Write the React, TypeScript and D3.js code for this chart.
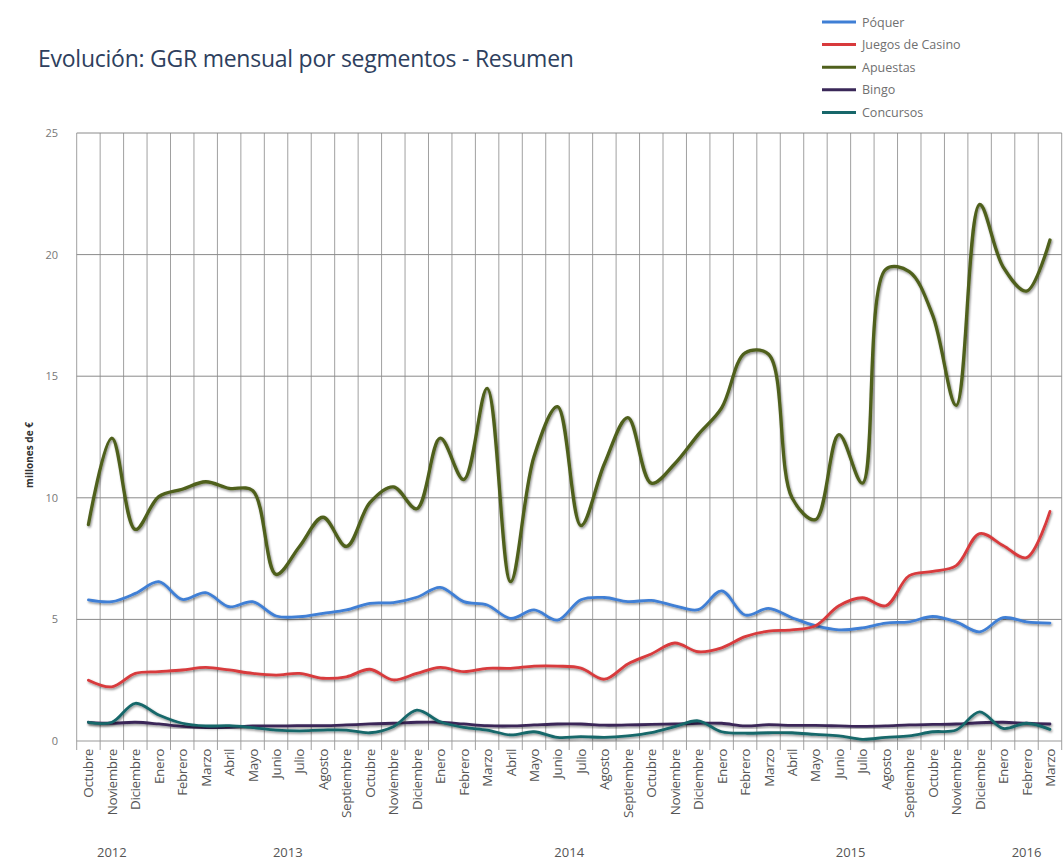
import { useMemo } from "react";
import * as d3 from "d3";

const WIDTH = 1064;
const HEIGHT = 865;
const PLOT = { left: 76.7, right: 1061.7, top: 133, bottom: 741 };

const MONTHS = [
  "Octubre", "Noviembre", "Diciembre",
  "Enero", "Febrero", "Marzo", "Abril", "Mayo", "Junio", "Julio", "Agosto", "Septiembre", "Octubre", "Noviembre", "Diciembre",
  "Enero", "Febrero", "Marzo", "Abril", "Mayo", "Junio", "Julio", "Agosto", "Septiembre", "Octubre", "Noviembre", "Diciembre",
  "Enero", "Febrero", "Marzo", "Abril", "Mayo", "Junio", "Julio", "Agosto", "Septiembre", "Octubre", "Noviembre", "Diciembre",
  "Enero", "Febrero", "Marzo",
];
const YEARS = ["2012", "2013", "2014", "2015", "2016"];
const YEAR_MONTHS = [3, 12, 12, 12, 3];
const Y_TICKS = [0, 5, 10, 15, 20, 25];

const poquer = [
  5.8, 5.73, 6.07, 6.55, 5.82, 6.1, 5.52, 5.73, 5.14, 5.11, 5.25, 5.39, 5.66, 5.69, 5.91,
  6.32, 5.73, 5.59, 5.04, 5.39, 4.97, 5.81, 5.9, 5.73, 5.78, 5.56, 5.4,
  6.17, 5.18, 5.45, 5.07, 4.74, 4.57, 4.65, 4.85, 4.9, 5.12, 4.9, 4.49,
  5.07, 4.9, 4.85,
];
const casino = [
  2.5, 2.23, 2.78, 2.85, 2.92, 3.03, 2.92, 2.78, 2.71, 2.78, 2.58, 2.64, 2.95, 2.51, 2.78,
  3.03, 2.85, 2.99, 2.99, 3.08, 3.08, 3.0, 2.54, 3.17, 3.58, 4.03, 3.67,
  3.83, 4.29, 4.52, 4.57, 4.74, 5.56, 5.89, 5.56, 6.8, 6.97, 7.21, 8.53,
  8.04, 7.54, 9.44,
];
const apuestas = [
  8.9, 12.45, 8.7, 10.05, 10.35, 10.66, 10.39, 10.3, 6.85, 8.0, 9.2, 8.0, 9.8, 10.45, 9.55,
  12.45, 10.75, 14.5, 6.55, 11.7, 13.75, 8.86, 11.4, 13.3, 10.6, 11.4, 12.6,
  13.7, 15.96, 15.9, 10.0, 9.1, 12.6, 10.6, 19.4, 19.3, 17.5, 13.8, 22.06,
  19.5, 18.5, 20.6,
];
const bingo = [
  0.77, 0.73, 0.77, 0.7, 0.6, 0.55, 0.56, 0.62, 0.62, 0.63, 0.63, 0.66, 0.7, 0.73, 0.77,
  0.77, 0.7, 0.63, 0.62, 0.66, 0.7, 0.7, 0.65, 0.66, 0.68, 0.7, 0.73,
  0.73, 0.62, 0.67, 0.64, 0.64, 0.62, 0.6, 0.62, 0.66, 0.68, 0.7, 0.75,
  0.77, 0.73, 0.7,
];
const concursos = [
  0.77, 0.77, 1.55, 1.07, 0.73, 0.62, 0.63, 0.55, 0.45, 0.42, 0.45, 0.45, 0.34, 0.59, 1.27,
  0.79, 0.56, 0.45, 0.25, 0.38, 0.15, 0.18, 0.15, 0.21, 0.34, 0.59, 0.83,
  0.38, 0.32, 0.34, 0.34, 0.27, 0.21, 0.07, 0.15, 0.21, 0.38, 0.45, 1.2,
  0.52, 0.73, 0.48,
];

const SERIES = [
  { name: "Póquer", values: poquer, color: "#3f7fd5", width: 2.8 },
  { name: "Juegos de Casino", values: casino, color: "#d83a3c", width: 2.8 },
  { name: "Apuestas", values: apuestas, color: "#4f601c", width: 3.3 },
  { name: "Bingo", values: bingo, color: "#3a2858", width: 2.8 },
  { name: "Concursos", values: concursos, color: "#17676a", width: 2.8 },
];

const FONT = "'Open Sans', 'DejaVu Sans', sans-serif";

export default function App() {
  const x = useMemo(
    () =>
      d3
        .scaleBand<number>()
        .domain(d3.range(MONTHS.length))
        .range([PLOT.left, PLOT.right]),
    []
  );
  const y = useMemo(
    () => d3.scaleLinear().domain([0, 25]).range([PLOT.bottom, PLOT.top]),
    []
  );
  const cx = (i: number) => (x(i) ?? 0) + x.bandwidth() / 2;

  const line = d3
    .line<number>()
    .x((_, i) => cx(i))
    .y((d) => y(d))
    .curve(d3.curveCatmullRom.alpha(0.5));

  // band boundaries for the vertical grid
  const bounds = d3.range(MONTHS.length + 1).map((i) => PLOT.left + i * x.bandwidth());

  let start = 0;
  const yearPos = YEARS.map((label, j) => {
    const from = start;
    start += YEAR_MONTHS[j];
    const mid = (PLOT.left + from * x.bandwidth() + PLOT.left + start * x.bandwidth()) / 2;
    return { label, mid };
  });

  return (
    <svg
      width={WIDTH}
      height={HEIGHT}
      style={{ position: "absolute", left: 0, top: 0, background: "#fff" }}
      fontFamily={FONT}
    >
      <defs>
        <filter id="shadow" x="-5%" y="-20%" width="110%" height="140%">
          <feDropShadow dx="1" dy="1.5" stdDeviation="1.2" floodColor="#000" floodOpacity="0.45" />
        </filter>
      </defs>

      <text x={38} y={67} fontSize={23} fill="#2e3f5e" letterSpacing={-0.25}>
        Evolución: GGR mensual por segmentos - Resumen
      </text>

      {/* legend */}
      {SERIES.map((s, i) => (
        <g key={s.name} transform={`translate(822, ${22 + i * 22.6})`}>
          <line x1={0} x2={34} y1={0} y2={0} stroke={s.color} strokeWidth={3} />
          <text x={40} y={4.5} fontSize={12.5} fill="#707070">
            {s.name}
          </text>
        </g>
      ))}

      {/* grid */}
      {bounds.map((b, i) => (
        <line key={`v${i}`} x1={b} x2={b} y1={PLOT.top} y2={PLOT.bottom + 9} stroke="#a0a0a0" strokeWidth={1} />
      ))}
      {Y_TICKS.map((t) => (
        <g key={`h${t}`}>
          <line x1={PLOT.left} x2={PLOT.right} y1={y(t)} y2={y(t)} stroke={t === 0 ? "#999" : "#8a8a8a"} strokeWidth={1} />
          <text x={58} y={y(t) + 4} fontSize={11} fill="#777" textAnchor="end">
            {t}
          </text>
        </g>
      ))}

      <text
        transform={`translate(33, 455) rotate(-90)`}
        fontSize={10}
        fontWeight="bold"
        fill="#333"
        textAnchor="middle"
      >
        millones de €
      </text>

      {/* series */}
      {SERIES.map((s) => (
        <path
          key={s.name}
          d={line(s.values) ?? ""}
          fill="none"
          stroke={s.color}
          strokeWidth={s.width}
          strokeLinejoin="round"
          strokeLinecap="round"
          filter="url(#shadow)"
        />
      ))}

      {/* month labels */}
      {MONTHS.map((m, i) => (
        <text
          key={`m${i}`}
          transform={`translate(${cx(i) + 5}, 749) rotate(-90)`}
          fontSize={13.5}
          fill="#555"
          textAnchor="end"
          letterSpacing={-0.4}
        >
          {m}
        </text>
      ))}

      {yearPos.map((yp) => (
        <text key={yp.label} x={yp.mid} y={857} fontSize={13} fill="#555" textAnchor="middle">
          {yp.label}
        </text>
      ))}
    </svg>
  );
}
